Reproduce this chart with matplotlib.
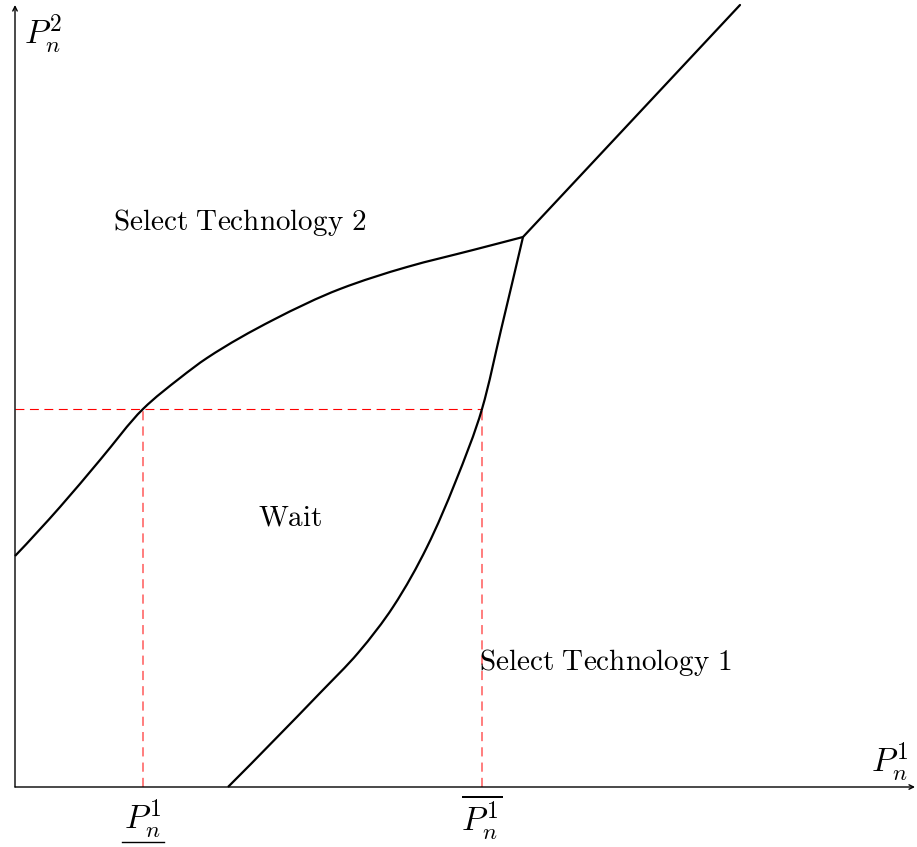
import numpy as np
import matplotlib
matplotlib.use("Agg")
import matplotlib.pyplot as plt
from matplotlib.path import Path
from matplotlib.patches import PathPatch

plt.rcParams["mathtext.fontset"] = "cm"

# ==== Boundary curves (P1, P2) ====
# upper boundary: P2 as a function of P1
upper_x = [0.00, 0.45, 0.85, 1.28, 1.65, 1.92, 2.58, 3.25, 3.92, 4.58, 5.08]
upper_y = [2.31, 2.80, 3.27, 3.78, 4.09, 4.29, 4.67, 4.98, 5.20, 5.37, 5.50]

# lower boundary: P1 as a function of P2
lower_y = [0.00, 0.94, 1.34, 1.80, 2.40, 3.04, 3.78, 4.57, 5.50]
lower_x = [2.13, 3.05, 3.43, 3.78, 4.12, 4.40, 4.67, 4.86, 5.08]

diag_x = [5.08, 7.25]
diag_y = [5.50, 7.82]

# thresholds
p_low = 1.28
p_high = 4.67
p2_level = 3.78

X_MAX, Y_MAX = 9.02, 7.87


def pchip_slopes(t, v):
    # shape-preserving slopes (Fritsch-Butland) at each knot
    t = np.asarray(t, float)
    v = np.asarray(v, float)
    h = np.diff(t)
    delta = np.diff(v) / h
    n = len(t)
    d = np.zeros(n)
    for k in range(1, n - 1):
        if delta[k - 1] * delta[k] > 0:
            w1 = 2 * h[k] + h[k - 1]
            w2 = h[k] + 2 * h[k - 1]
            d[k] = (w1 + w2) / (w1 / delta[k - 1] + w2 / delta[k])
    d[0] = ((2 * h[0] + h[1]) * delta[0] - h[0] * delta[1]) / (h[0] + h[1])
    d[-1] = ((2 * h[-1] + h[-2]) * delta[-1] - h[-1] * delta[-2]) / (h[-1] + h[-2])
    return d


def curve_path(t, v, swap=False):
    # Hermite pieces through the knots, written as cubic Bezier segments
    t = np.asarray(t, float)
    v = np.asarray(v, float)
    d = pchip_slopes(t, v)
    pts = [(t[0], v[0])]
    codes = [Path.MOVETO]
    for i in range(len(t) - 1):
        h = t[i + 1] - t[i]
        pts += [(t[i] + h / 3, v[i] + d[i] * h / 3),
                (t[i + 1] - h / 3, v[i + 1] - d[i + 1] * h / 3),
                (t[i + 1], v[i + 1])]
        codes += [Path.CURVE4] * 3
    pts = np.array(pts)
    if swap:
        pts = pts[:, ::-1]
    return Path(pts, codes)


fig = plt.figure(figsize=(9.17, 8.47), dpi=100)
ax = fig.add_axes([0, 0, 1, 1])
ax.set_xlim(-0.15, X_MAX)
ax.set_ylim(-0.60, Y_MAX)
ax.axis("off")

# axes with arrows
ax.annotate("", xy=(9.0, 0), xytext=(0, 0),
            arrowprops=dict(arrowstyle="->", lw=1.0, color="black",
                            shrinkA=0, shrinkB=0, mutation_scale=8))
ax.annotate("", xy=(0, 7.82), xytext=(0, 0),
            arrowprops=dict(arrowstyle="->", lw=1.0, color="black",
                            shrinkA=0, shrinkB=0, mutation_scale=8))

# threshold guides
ax.plot([0, p_high], [p2_level, p2_level], color="red", lw=0.8,
        dashes=(8, 5), zorder=1)
for px in (p_low, p_high):
    ax.plot([px, px], [0, p2_level], color="#ff5a5a", lw=1.1,
            dashes=(6, 4), zorder=1)

# region boundaries
ax.add_patch(PathPatch(curve_path(upper_x, upper_y), facecolor="none",
                       edgecolor="black", lw=1.6, zorder=3))
ax.add_patch(PathPatch(curve_path(lower_y, lower_x, swap=True),
                       facecolor="none", edgecolor="black", lw=1.6, zorder=3))
ax.plot(diag_x, diag_y, color="black", lw=1.6, zorder=3,
        solid_capstyle="round")

# region labels
fs = 21
ax.text(0.98, 5.65, r"$\mathrm{Select\ Technology\ 2}$", fontsize=fs,
        ha="left", va="center")
ax.text(2.75, 2.70, r"$\mathrm{Wait}$", fontsize=fs, ha="center", va="center")
ax.text(4.64, 1.25, r"$\mathrm{Select\ Technology\ 1}$", fontsize=fs,
        ha="left", va="center")

# axis labels
lfs = 24
ax.text(0.28, 7.53, r"$P_n^2$", fontsize=lfs, ha="center", va="center")
ax.text(8.75, 0.25, r"$P_n^1$", fontsize=lfs, ha="center", va="center")

low_lbl = ax.text(p_low, -0.43, r"$P_n^1$", fontsize=lfs, ha="center",
                  va="baseline")
ax.text(p_high, -0.45, r"$\overline{P_n^1}$", fontsize=lfs, ha="center",
        va="baseline")

# underline under the lower threshold label
fig.canvas.draw()
bb = low_lbl.get_window_extent()
x0, x1 = ax.transData.inverted().transform([(bb.x0, 0), (bb.x1, 0)])[:, 0]
ax.plot([x0 - 0.02, x1 + 0.02], [-0.55, -0.55], color="black", lw=1.0)

fig.savefig("out.png", dpi=100)
